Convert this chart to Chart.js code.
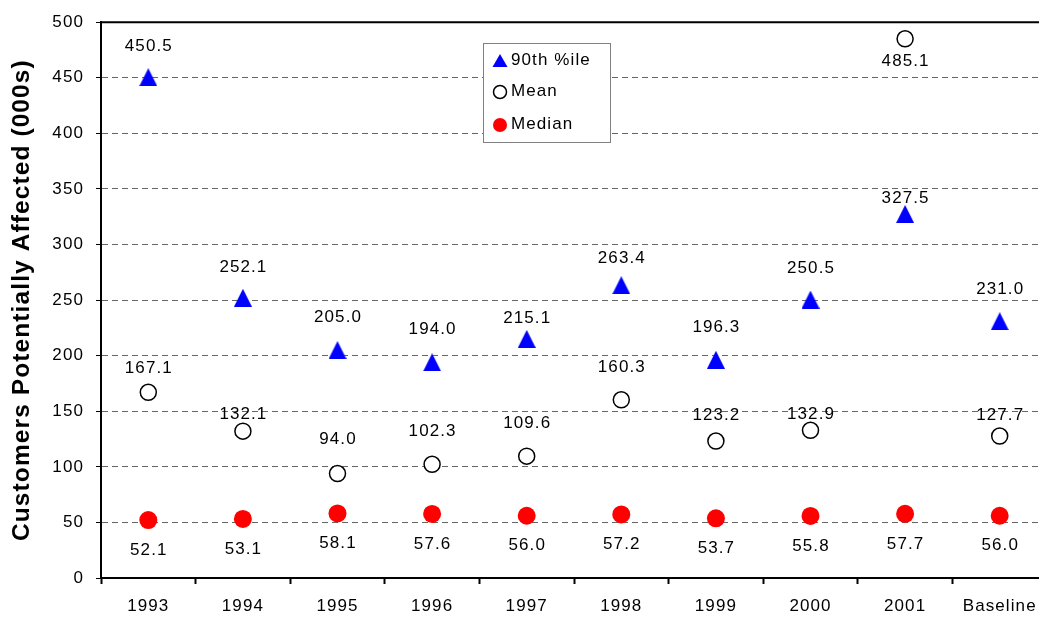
<!DOCTYPE html>
<html>
<head>
<meta charset="utf-8">
<title>Customers Potentially Affected</title>
<script src="https://cdn.jsdelivr.net/npm/chart.js@4.4.1/dist/chart.umd.min.js"></script>
<style>
  html, body { margin: 0; padding: 0; background: #fff; overflow: hidden; }
  canvas { display: block; }
</style>
</head>
<body>
<canvas id="chart" width="1060" height="620"></canvas>
<script>
// ---- data ----
const categories = ['1993', '1994', '1995', '1996', '1997', '1998', '1999', '2000', '2001', 'Baseline'];
const pct90Values = [450.5, 252.1, 205.0, 194.0, 215.1, 263.4, 196.3, 250.5, 327.5, 231.0];
const meanValues = [167.1, 132.1, 94.0, 102.3, 109.6, 160.3, 123.2, 132.9, 485.1, 127.7];
const medianValues = [52.1, 53.1, 58.1, 57.6, 56.0, 57.2, 53.7, 55.8, 57.7, 56.0];
const yTickValues = [0, 50, 100, 150, 200, 250, 300, 350, 400, 450, 500];
const seriesNames = ['90th %ile', 'Mean', 'Median'];

// ---- label placement (vertical pixel shift of each value label from its marker) ----
const pct90LabelShift = [-31, -30, -33, -33, -21, -27, -32, -31, -16, -32];
const meanLabelShift = [-24, -17, -34, -33, -33, -32, -26, -16, 23, -21];
const medianLabelShift = [30, 30, 30, 30, 30, 30, 30, 30, 30, 30];

// ---- styling ----
const FONT = '"Liberation Sans", Arial, Helvetica, sans-serif';
const TEXT_SPACING = '1.1px';
Chart.defaults.font.family = FONT;
Chart.defaults.font.size = 17;
Chart.defaults.color = '#000';

// Upward triangle marker, centred on its bounding box
function makeTriangle(size, color) {
  const c = document.createElement('canvas');
  c.width = size; c.height = size;
  const g = c.getContext('2d');
  g.fillStyle = color;
  g.beginPath();
  g.moveTo(size / 2, 0);
  g.lineTo(size, size);
  g.lineTo(0, size);
  g.closePath();
  g.fill();
  return c;
}
const triMarker = makeTriangle(18, '#0000ff');

// Wider letter spacing for all chart text
const spacingPlugin = {
  id: 'spacing',
  beforeLayout(chart) { chart.ctx.letterSpacing = TEXT_SPACING; },
  beforeDraw(chart) { chart.ctx.letterSpacing = TEXT_SPACING; }
};

// Solid frame line along the top of the plot area
const topFrame = {
  id: 'topFrame',
  afterDraw(chart) {
    const { ctx, chartArea } = chart;
    ctx.save();
    ctx.strokeStyle = '#000';
    ctx.lineWidth = 2;
    ctx.beginPath();
    ctx.moveTo(chartArea.left - 1, chartArea.top);
    ctx.lineTo(chartArea.right, chartArea.top);
    ctx.stroke();
    ctx.restore();
  }
};

// Value labels next to each marker
const valueLabels = {
  id: 'valueLabels',
  afterDatasetsDraw(chart) {
    const { ctx } = chart;
    ctx.save();
    ctx.letterSpacing = TEXT_SPACING;
    ctx.font = '17px ' + FONT;
    ctx.fillStyle = '#000';
    ctx.textAlign = 'center';
    ctx.textBaseline = 'middle';
    chart.data.datasets.forEach((ds, di) => {
      const meta = chart.getDatasetMeta(di);
      meta.data.forEach((pt, i) => {
        ctx.fillText(ds.data[i].toFixed(1), pt.x + 0.5, pt.y + ds.labelShift[i]);
      });
    });
    ctx.restore();
  }
};

// Boxed legend inside the plot area
const boxLegend = {
  id: 'boxLegend',
  afterDraw(chart) {
    const { ctx } = chart;
    const x = 483, y = 43, w = 127, h = 99;
    ctx.save();
    ctx.fillStyle = '#fff';
    ctx.fillRect(x, y, w, h);
    ctx.strokeStyle = '#808080';
    ctx.lineWidth = 1;
    ctx.strokeRect(x + 0.5, y + 0.5, w, h);

    const rows = [61, 92, 125];
    const mx = 500;
    // triangle
    ctx.fillStyle = '#0000ff';
    ctx.beginPath();
    ctx.moveTo(mx, rows[0] - 7);
    ctx.lineTo(mx + 7.5, rows[0] + 6);
    ctx.lineTo(mx - 7.5, rows[0] + 6);
    ctx.closePath();
    ctx.fill();
    // open circle
    ctx.strokeStyle = '#000';
    ctx.lineWidth = 1.5;
    ctx.fillStyle = '#fff';
    ctx.beginPath();
    ctx.arc(mx, rows[1], 6.5, 0, Math.PI * 2);
    ctx.fill();
    ctx.stroke();
    // filled circle
    ctx.fillStyle = '#ff0000';
    ctx.beginPath();
    ctx.arc(mx, rows[2], 7, 0, Math.PI * 2);
    ctx.fill();

    ctx.letterSpacing = TEXT_SPACING;
    ctx.font = '17px ' + FONT;
    ctx.fillStyle = '#000';
    ctx.textAlign = 'left';
    ctx.textBaseline = 'middle';
    seriesNames.forEach((name, i) => ctx.fillText(name, 511, rows[i] - 1));
    ctx.restore();
  }
};

new Chart(document.getElementById('chart'), {
  type: 'line',
  data: {
    labels: categories,
    datasets: [
      {
        label: seriesNames[0],
        data: pct90Values,
        labelShift: pct90LabelShift,
        showLine: false,
        pointStyle: triMarker,
        pointRadius: 9,
        pointHoverRadius: 9,
        backgroundColor: '#0000ff',
        borderColor: '#0000ff'
      },
      {
        label: seriesNames[1],
        data: meanValues,
        labelShift: meanLabelShift,
        showLine: false,
        pointStyle: 'circle',
        pointRadius: 8,
        pointBorderWidth: 1.5,
        pointBackgroundColor: '#fff',
        pointBorderColor: '#000',
        backgroundColor: '#fff',
        borderColor: '#000'
      },
      {
        label: seriesNames[2],
        data: medianValues,
        labelShift: medianLabelShift,
        showLine: false,
        pointStyle: 'circle',
        pointRadius: 9,
        pointBorderWidth: 0,
        pointBackgroundColor: '#ff0000',
        pointBorderColor: '#ff0000',
        backgroundColor: '#ff0000',
        borderColor: '#ff0000'
      }
    ]
  },
  options: {
    responsive: false,
    animation: false,
    devicePixelRatio: 1,
    clip: false,
    layout: { padding: { top: 19, right: 13, left: 0, bottom: 0 } },
    plugins: {
      legend: { display: false },
      tooltip: { enabled: false }
    },
    scales: {
      x: {
        type: 'category',
        offset: true,
        grid: {
          offset: true,
          drawOnChartArea: false,
          drawTicks: true,
          tickLength: 6,
          tickWidth: 2,
          tickColor: '#000'
        },
        border: { display: true, color: '#000', width: 2 },
        ticks: { padding: 12, maxRotation: 0, autoSkip: false, font: { size: 17 } },
        afterFit(scale) { scale.height = 42; }
      },
      y: {
        min: 0,
        max: 500,
        afterBuildTicks(scale) { scale.ticks = yTickValues.map(v => ({ value: v })); },
        grid: {
          color: ctx => (ctx.tick && (ctx.tick.value === 0 || ctx.tick.value === 500)) ? 'rgba(0,0,0,0)' : '#666',
          lineWidth: 1,
          drawTicks: true,
          tickLength: 5,
          tickColor: '#000',
          tickWidth: 1
        },
        border: { display: true, color: '#000', width: 2, dash: [6, 4] },
        ticks: { padding: 12, font: { size: 17 } },
        title: {
          display: true,
          text: 'Customers Potentially Affected (000s)',
          font: { size: 24.5, weight: 'bold' },
          padding: { top: 8, bottom: 0 }
        },
        afterFit(scale) { scale.width = 101; }
      }
    }
  },
  plugins: [spacingPlugin, valueLabels, topFrame, boxLegend]
});
</script>
</body>
</html>
